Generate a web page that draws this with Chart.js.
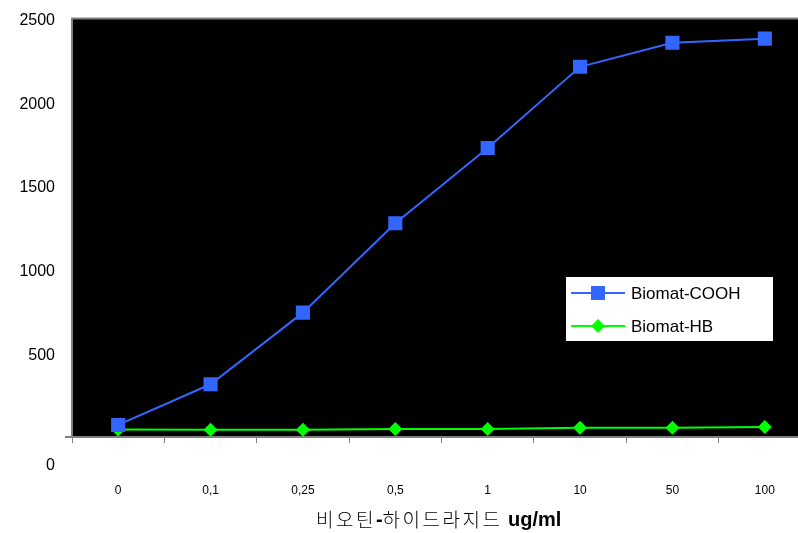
<!DOCTYPE html>
<html>
<head>
<meta charset="utf-8">
<script src="https://cdn.jsdelivr.net/npm/chart.js@4"></script>
<style>
  html, body { margin: 0; padding: 0; background: #fff; overflow: hidden; }
  #wrap { width: 821px; height: 541px; margin-top: -8px; }
</style>
</head>
<body>
<div id="wrap"><canvas id="chart" width="821" height="541"></canvas></div>
<script>
// DATA
var doses = ['0', '0,1', '0,25', '0,5', '1', '10', '50', '100'];
var cooh = [72, 315, 743, 1277, 1727, 2212, 2356, 2380];
var hb = [45, 44, 43, 48, 48, 56, 55, 60];
var yTicks = [0, 500, 1000, 1500, 2000, 2500];
var seriesNames = ['Biomat-COOH', 'Biomat-HB'];
// x title pieces: [text, bold]
var titleParts = [['비오틴', false], ['-', true], ['하이드라지드', false], [' ', true], ['ug/ml', true]];

var FONT = '"Liberation Sans", Arial, sans-serif';
var KFONT = '"Noto Sans CJK KR", ' + FONT;
var SHIFT = 8; // canvas is pulled up by this much

// black plot area + top/left border, misplaced zero label, legend box, x title
var plotDeco = {
  id: 'plotDeco',
  beforeDatasetsDraw: function(chart) {
    var a = chart.chartArea, ctx = chart.ctx;
    ctx.save();
    ctx.fillStyle = '#000';
    ctx.fillRect(a.left, a.top, a.right - a.left, a.bottom - a.top);
    ctx.strokeStyle = '#808080';
    ctx.lineWidth = 2;
    ctx.beginPath();
    ctx.moveTo(a.left, a.bottom);
    ctx.lineTo(a.left, a.top);
    ctx.lineTo(a.right, a.top);
    ctx.stroke();
    ctx.beginPath();
    ctx.moveTo(a.left - 7, a.bottom);
    ctx.lineTo(a.right, a.bottom);
    ctx.stroke();
    ctx.restore();
  },
  afterDraw: function(chart) {
    var ctx = chart.ctx;
    var y0 = chart.scales.y.getPixelForValue(0);
    ctx.save();
    ctx.fillStyle = '#000';
    ctx.font = '16px ' + FONT;
    ctx.textAlign = 'right';
    ctx.textBaseline = 'middle';
    ctx.fillText('0', 55, y0 + 29);

    // legend
    var lx = 565, ly = 276 + SHIFT, lw = 208, lh = 65;
    ctx.fillStyle = '#fff';
    ctx.fillRect(lx, ly, lw, lh);
    ctx.strokeStyle = '#000';
    ctx.lineWidth = 1;
    ctx.strokeRect(lx + 0.5, ly + 0.5, lw, lh);
    var rows = [
      { name: seriesNames[0], color: '#3366ff', y: ly + 17, shape: 'sq' },
      { name: seriesNames[1], color: '#00ff00', y: ly + 50, shape: 'di' }
    ];
    rows.forEach(function(r) {
      ctx.strokeStyle = r.color;
      ctx.lineWidth = 2;
      ctx.beginPath();
      ctx.moveTo(lx + 6, r.y);
      ctx.lineTo(lx + 60, r.y);
      ctx.stroke();
      ctx.fillStyle = r.color;
      if (r.shape === 'sq') {
        ctx.fillRect(lx + 26, r.y - 7, 14, 14);
      } else {
        ctx.beginPath();
        ctx.moveTo(lx + 33, r.y - 7);
        ctx.lineTo(lx + 40, r.y);
        ctx.lineTo(lx + 33, r.y + 7);
        ctx.lineTo(lx + 26, r.y);
        ctx.closePath();
        ctx.fill();
      }
      ctx.fillStyle = '#000';
      ctx.font = '17px ' + FONT;
      ctx.textAlign = 'left';
      ctx.textBaseline = 'middle';
      ctx.fillText(r.name, lx + 66, r.y + 1);
    });

    // x axis title, mixed weight, starts at x=316
    ctx.textBaseline = 'middle';
    ctx.textAlign = 'left';
    var sx = 316;
    ctx.fillStyle = '#000';
    titleParts.forEach(function(p) {
      if (p[1]) {
        ctx.font = 'bold 20px ' + FONT;
        ctx.letterSpacing = '0px';
      } else {
        ctx.font = '300 19px ' + KFONT;
        ctx.letterSpacing = '2.5px';
      }
      ctx.fillText(p[0], sx, 520 + SHIFT);
      sx += ctx.measureText(p[0]).width;
    });
    ctx.restore();
  }
};

new Chart(document.getElementById('chart'), {
  type: 'line',
  data: {
    labels: doses,
    datasets: [
      {
        label: seriesNames[0],
        data: cooh,
        borderColor: '#3366ff',
        backgroundColor: '#3366ff',
        borderWidth: 2,
        pointStyle: 'rect',
        pointRadius: 10,
        pointBorderWidth: 0,
        tension: 0
      },
      {
        label: seriesNames[1],
        data: hb,
        borderColor: '#00ff00',
        backgroundColor: '#00ff00',
        borderWidth: 2,
        pointStyle: 'rectRot',
        pointRadius: 7,
        pointBorderWidth: 0,
        tension: 0
      }
    ]
  },
  options: {
    responsive: false,
    animation: false,
    layout: { padding: { top: 11, left: 0, right: 0, bottom: 0 } },
    plugins: {
      legend: { display: false },
      tooltip: { enabled: false }
    },
    scales: {
      x: {
        offset: true,
        grid: {
          offset: true,
          drawOnChartArea: false,
          drawTicks: true,
          tickLength: 6,
          color: '#808080',
          lineWidth: 1
        },
        border: { display: false },
        ticks: {
          color: '#000',
          font: { family: FONT, size: 12 },
          padding: 40,
          maxRotation: 0
        },
        afterFit: function(s) { s.height = 96; }
      },
      y: {
        min: 0,
        max: 2500,
        afterBuildTicks: function(s) {
          s.ticks = yTicks.map(function(v) { return { value: v }; });
        },
        grid: { display: false, drawTicks: false },
        border: { display: false },
        ticks: {
          color: '#000',
          font: { family: FONT, size: 16 },
          padding: 17,
          labelOffset: 2,
          callback: function(v) { return v === 0 ? '' : v; }
        },
        afterFit: function(s) { s.width = 72; }
      }
    }
  },
  plugins: [plotDeco]
});
</script>
</body>
</html>
